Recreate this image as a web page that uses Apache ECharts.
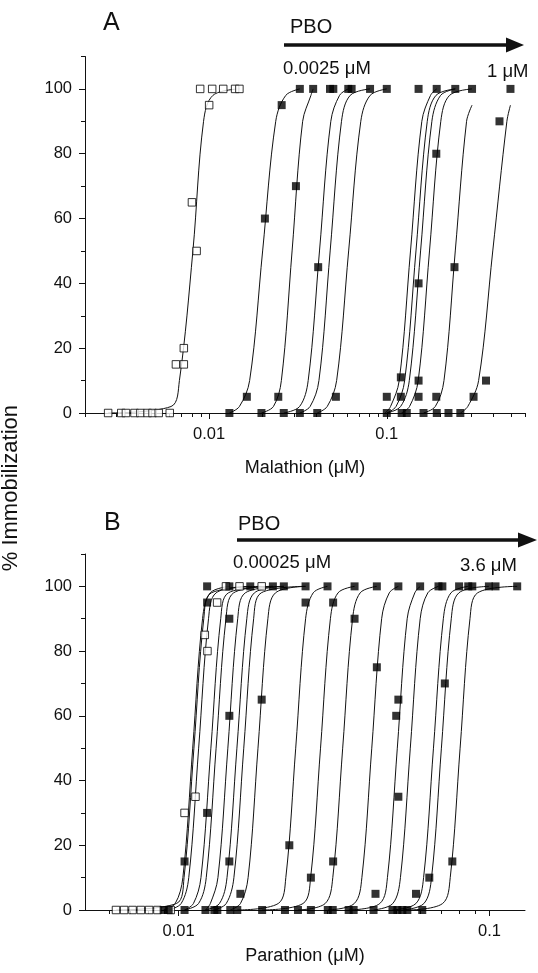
<!DOCTYPE html>
<html><head><meta charset="utf-8">
<script src="https://cdn.jsdelivr.net/npm/echarts@6/dist/echarts.min.js"></script>
<style>html,body{margin:0;padding:0;background:#fff}#c{width:538px;height:973px}</style>
</head><body><div id="c"></div>
<script>
// ---------- Panel A (Malathion) ----------
const aMajorX = [0.01, 0.1];
const aMinorX = [0.002,0.003,0.004,0.005,0.006,0.007,0.008,0.009,0.02,0.03,0.04,0.05,0.06,0.07,0.08,0.09,0.2,0.3,0.4,0.5,0.6];
const yMajor = [0,20,40,60,80,100];
const yMinor = [10,30,50,70,90,110];

const aOpen = [[0.0027,0],[0.0032,0],[0.0034,0],[0.0038,0],[0.0041,0],[0.0045,0],[0.0048,0],[0.0052,0],[0.006,0],
  [0.0065,15],[0.0072,15],[0.0072,20],[0.008,65],[0.0085,50],[0.0089,100],[0.01,95],[0.0104,100],[0.012,100],[0.014,100],[0.0148,100]];
const aFilled = [[0.013,0],[0.0197,0],[0.0263,0],[0.0324,0],[0.0406,0],[0.1,0],[0.1213,0],[0.1296,0],[0.161,0],[0.1912,0],[0.2225,0],[0.2595,0],
  [0.0163,5],[0.0245,5],[0.0517,5],[0.1,5],[0.12,5],[0.151,5],[0.19,5],[0.308,5],
  [0.12,11],[0.151,10],[0.362,10],
  [0.0206,60],[0.0256,95],[0.0308,70],[0.0411,45],[0.151,40],[0.19,80],[0.2405,45],[0.431,90],
  [0.0324,100],[0.0385,100],[0.0479,100],[0.05,100],[0.0607,100],[0.0634,100],[0.0805,100],[0.1,100],[0.151,100],[0.191,100],[0.243,100],[0.302,100],[0.497,100]];

const aCurveCtrl = [[0.0027,0],[0.0061,2],[0.0068,10],[0.0081,50],[0.0093,90],[0.0105,98],[0.0148,100]];
const aCurve1 = [[0.013,0],[0.0148,2],[0.0169,10],[0.02,50],[0.0237,90],[0.027,98],[0.0324,100]];
const aCurve2 = [[0.0197,0],[0.023,2],[0.0255,10],[0.0293,50],[0.0336,90],[0.0374,98],[0.0385,100]];
const aCurve3 = [[0.0263,0],[0.0323,2],[0.0361,10],[0.0418,50],[0.0484,90],[0.0542,98],[0.0607,100]];
const aCurve4 = [[0.0324,0],[0.037,2],[0.0415,10],[0.048,50],[0.0556,90],[0.0622,98],[0.0805,100]];
const aCurve5 = [[0.0406,0],[0.0462,2],[0.0522,10],[0.061,50],[0.0714,90],[0.0806,98],[0.1,100]];
const aCurve6 = [[0.098,0],[0.105,2],[0.1175,10],[0.136,50],[0.1575,90],[0.1763,98],[0.191,100]];
const aCurve7 = [[0.1,0],[0.1127,2],[0.1261,10],[0.146,50],[0.169,90],[0.1892,98],[0.243,100]];
const aCurve8 = [[0.1,0],[0.1196,2],[0.1339,10],[0.155,50],[0.1794,90],[0.2009,98],[0.243,100]];
const aCurve9 = [[0.121,0],[0.1343,2],[0.1503,10],[0.174,50],[0.2014,90],[0.2255,98],[0.302,100]];
const aCurve10 = [[0.161,0],[0.1875,2],[0.2099,10],[0.243,50],[0.2813,90],[0.302,95]];
const aCurve11 = [[0.26,0],[0.2857,2],[0.3288,10],[0.395,50],[0.4744,90],[0.497,95]];
const aCurves = [aCurveCtrl,aCurve1,aCurve2,aCurve3,aCurve4,aCurve5,aCurve6,aCurve7,aCurve8,aCurve9,aCurve10,aCurve11];

// ---------- Panel B (Parathion) ----------
const bMajorX = [0.01, 0.1];
const bMinorX = [0.006,0.007,0.008,0.009,0.02,0.03,0.04,0.05,0.06,0.07,0.08,0.09];

const bOpen = [[0.00629,0],[0.00668,0],[0.00711,0],[0.00756,0],[0.00804,0],[0.00855,0],[0.00943,0],
  [0.01045,30],[0.01133,35],[0.01214,85],[0.01238,80],[0.0133,95],[0.0142,100],[0.0157,100],[0.0185,100]];
const bFilled = [[0.00895,0],[0.00929,0],[0.01045,0],[0.0122,0],[0.01303,0],[0.01332,0],[0.01466,0],[0.01544,0],[0.01856,0],[0.02198,0],[0.0242,0],
  [0.02663,0],[0.03018,0],[0.03131,0],[0.03523,0],[0.03655,0],[0.04235,0],[0.04872,0],[0.05053,0],[0.05243,0],[0.05439,0],[0.06074,0],
  [0.01045,15],[0.01235,30],[0.01235,95],[0.01235,100],[0.01456,100],[0.01456,90],[0.01456,60],[0.01456,15],[0.0158,5],[0.017,100],
  [0.0185,65],[0.0201,100],[0.0218,100],[0.0227,20],[0.0256,100],[0.0256,95],[0.03012,100],[0.0314,95],[0.0368,100],[0.0368,90],
  [0.0434,100],[0.0434,75],[0.0509,100],[0.0509,65],[0.0501,60],[0.0509,35],[0.0598,100],[0.0685,100],[0.0705,100],[0.0718,70],
  [0.0798,100],[0.0854,100],[0.088,100],[0.0995,100],[0.1045,100],[0.1227,100],[0.02663,10],[0.0314,15],[0.04297,5],[0.058,5],[0.064,10],[0.0759,15]];

const bCurveCtrl = [[0.0063,0],[0.00984,2],[0.01041,10],[0.0112,50],[0.01205,90],[0.01275,98],[0.0185,100]];
const bCurve1 = [[0.00895,0],[0.00975,2],[0.01032,10],[0.0111,50],[0.01194,90],[0.01264,98],[0.0146,100]];
const bCurve2 = [[0.00929,0],[0.01019,2],[0.01078,10],[0.0116,50],[0.01248,90],[0.0132,98],[0.017,100]];
const bCurve3 = [[0.01045,0],[0.01116,2],[0.0118,10],[0.0127,50],[0.01366,90],[0.01446,98],[0.0201,100]];
const bCurve4 = [[0.01045,0],[0.01159,2],[0.01227,10],[0.0132,50],[0.0142,90],[0.01503,98],[0.0201,100]];
const bCurve5 = [[0.0122,0],[0.01265,2],[0.01338,10],[0.0144,50],[0.01549,90],[0.01639,98],[0.0218,100]];
const bCurve6 = [[0.0122,0],[0.01353,2],[0.01431,10],[0.0154,50],[0.01657,90],[0.01753,98],[0.0218,100]];
const bCurve7 = [[0.01303,0],[0.01423,2],[0.01506,10],[0.0162,50],[0.01743,90],[0.01844,98],[0.0256,100]];
const bCurve8 = [[0.01466,0],[0.01581,2],[0.01673,10],[0.018,50],[0.01937,90],[0.02049,98],[0.0256,100]];
const bCurve9 = [[0.01544,0],[0.02091,2],[0.02212,10],[0.0238,50],[0.02561,90],[0.02709,98],[0.0301,100]];
const bCurve10 = [[0.01856,0],[0.02512,2],[0.02658,10],[0.0286,50],[0.03077,90],[0.03256,98],[0.0368,100]];
const bCurve11 = [[0.0242,0],[0.0296,2],[0.03132,10],[0.0337,50],[0.03626,90],[0.03836,98],[0.0434,100]];
const bCurve12 = [[0.03018,0],[0.03672,2],[0.03885,10],[0.0418,50],[0.04497,90],[0.04759,98],[0.0509,100]];
const bCurve13 = [[0.03523,0],[0.04436,2],[0.04694,10],[0.0505,50],[0.05433,90],[0.05749,98],[0.0598,100]];
const bCurve14 = [[0.04235,0],[0.04884,2],[0.05168,10],[0.0556,50],[0.05982,90],[0.0633,98],[0.0685,100]];
const bCurve15 = [[0.04872,0],[0.05797,2],[0.06135,10],[0.066,50],[0.07101,90],[0.07513,98],[0.0854,100]];
const bCurve16 = [[0.05243,0],[0.06149,2],[0.06507,10],[0.07,50],[0.07531,90],[0.07969,98],[0.0995,100]];
const bCurve17 = [[0.05439,0],[0.07062,2],[0.07473,10],[0.0804,50],[0.0865,90],[0.09153,98],[0.1227,100]];
const bCurves = [bCurveCtrl,bCurve1,bCurve2,bCurve3,bCurve4,bCurve5,bCurve6,bCurve7,bCurve8,bCurve9,bCurve10,bCurve11,bCurve12,bCurve13,bCurve14,bCurve15,bCurve16,bCurve17];

// ---------- chart ----------
const FONT = '"Liberation Sans", Arial, sans-serif';
const INK = '#111';
const chart = echarts.init(document.getElementById('c'), null, {renderer:'canvas'});
const fmt = v => String(+(+v).toPrecision(3));

function xAxes(grid, min, max, major, minor, name, nameGap) {
  return [
    {gridIndex:grid, type:'log', logBase:10, min:min, max:max, position:'bottom',
     name:name, nameLocation:'middle', nameGap:nameGap,
     nameTextStyle:{fontFamily:FONT, fontSize:18, color:INK},
     axisLine:{show:true, lineStyle:{color:INK, width:1}},
     axisTick:{show:true, customValues:major, length:6, inside:false, lineStyle:{color:INK}},
     axisLabel:{show:true, customValues:major, formatter:fmt, margin:13, fontFamily:FONT, fontSize:16.5, color:INK},
     splitLine:{show:false}, minorTick:{show:false}},
    {gridIndex:grid, type:'log', logBase:10, min:min, max:max, position:'bottom',
     axisLine:{show:false},
     axisTick:{show:true, customValues:minor, length:4, inside:false, lineStyle:{color:INK}},
     axisLabel:{show:false}, splitLine:{show:false}}
  ];
}
function yAxes(grid) {
  return [
    {gridIndex:grid, type:'value', min:0, max:110, position:'left',
     axisLine:{show:true, lineStyle:{color:INK, width:1}},
     axisTick:{show:true, customValues:yMajor, length:6, inside:false, lineStyle:{color:INK}},
     axisLabel:{show:true, customValues:yMajor, margin:13, fontFamily:FONT, fontSize:16.5, color:INK},
     splitLine:{show:false}},
    {gridIndex:grid, type:'value', min:0, max:110, position:'left',
     axisLine:{show:false},
     axisTick:{show:true, customValues:yMinor, length:4, inside:false, lineStyle:{color:INK}},
     axisLabel:{show:false}, splitLine:{show:false}}
  ];
}

const series = [];
function addCurves(curves, xi, yi) {
  curves.forEach(c => series.push({type:'line', xAxisIndex:xi, yAxisIndex:yi, data:c, showSymbol:false, smooth:0.35,
    lineStyle:{color:INK, width:1}, z:2, silent:true}));
}
function addPts(pts, xi, yi, open) {
  series.push({type:'scatter', xAxisIndex:xi, yAxisIndex:yi, data:pts, symbol:'rect', symbolSize:open?7.5:8,
    itemStyle: open ? {color:'#fff', borderColor:'#000', borderWidth:1} : {color:'#000'}, z:3, silent:true});
}
addCurves(aCurves, 0, 0); addPts(aOpen, 0, 0, true); addPts(aFilled, 0, 0, false);
addCurves(bCurves, 2, 2); addPts(bOpen, 2, 2, true); addPts(bFilled, 2, 2, false);

const txt = (left, top, text, size, extra) => Object.assign({type:'text', left:left, top:top,
  style:{text:text, fontFamily:FONT, fontSize:size, fill:INK}}, extra||{});

chart.setOption({
  animation:false,
  grid:[{left:85, top:56.5, width:440, height:356.5}, {left:85, top:554, width:440, height:356}],
  xAxis:[...xAxes(0, 0.002, 0.6, aMajorX, aMinorX, 'Malathion (μM)', 46), ...xAxes(1, 0.005, 0.13, bMajorX, bMinorX, 'Parathion (μM)', 37)],
  yAxis:[...yAxes(0), ...yAxes(1)],
  series: series,
  graphic:[
    txt(103, 11, 'A', 25), txt(104, 511, 'B', 25),
    txt(290, 17, 'PBO', 20), txt(238, 514, 'PBO', 20),
    {type:'line', shape:{x1:284, y1:45, x2:510, y2:45}, style:{stroke:INK, lineWidth:3.5}},
    {type:'polygon', shape:{points:[[506,37.5],[524,45],[506,52.5]]}, style:{fill:INK}},
    {type:'line', shape:{x1:237, y1:540, x2:522, y2:540}, style:{stroke:INK, lineWidth:3.5}},
    {type:'polygon', shape:{points:[[518,532.5],[537,540],[518,547.5]]}, style:{fill:INK}},
    txt(283, 59, '0.0025 μM', 18.5), txt(487, 62, '1 μM', 18.5),
    txt(233, 553, '0.00025 μM', 18.5), txt(460, 556, '3.6 μM', 18.5),
    {type:'text', left:0, top:405, rotation:Math.PI/2, style:{text:'% Immobilization', fontFamily:FONT, fontSize:22, fill:INK}}
  ]
});
</script></body></html>
